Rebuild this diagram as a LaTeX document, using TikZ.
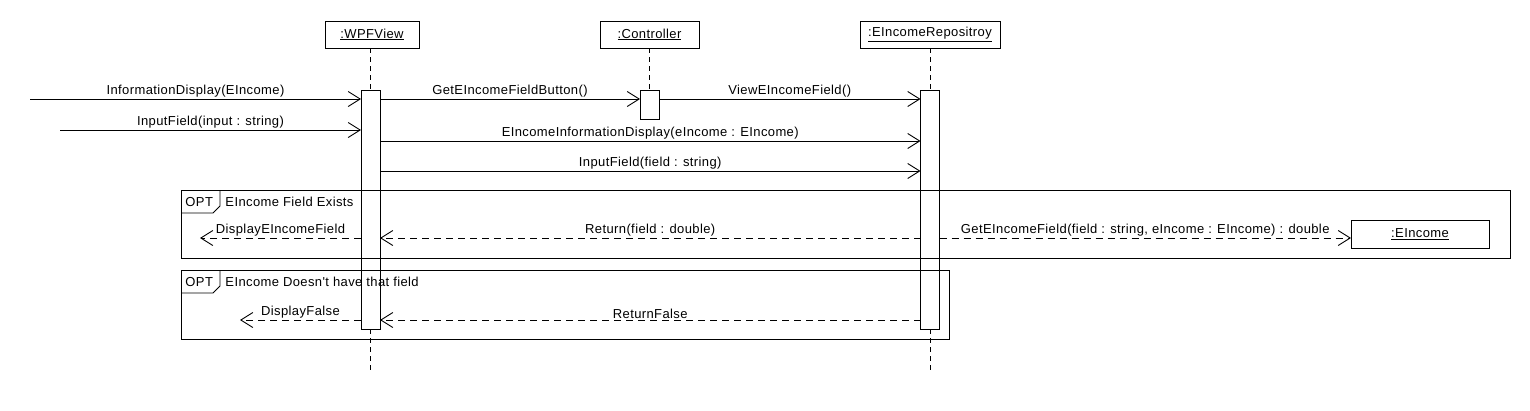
\documentclass[tikz,border=0pt]{standalone}
\usepackage{fontspec}
\setmainfont{Liberation Sans}[LetterSpace=3,Ligatures=TeXOff]
\usetikzlibrary{arrows.meta}
\begin{document}
\begin{tikzpicture}[x=1pt,y=-1pt,line width=0.9pt,
  every node/.style={font=\fontsize{13pt}{15pt}\selectfont},
  head/.style={draw,minimum height=27pt,inner sep=0pt,outer sep=0pt},
  bar/.style={draw,minimum width=19pt,inner sep=0pt,outer sep=0pt},
  life/.style={dash pattern=on 5pt off 4pt},
  msg/.style={-{Straight Barb[length=12pt,width=15pt]}},
  ret/.style={msg,dash pattern=on 7pt off 5pt},
  lbl/.style={midway,above=0pt,inner sep=1pt},
  frame/.style={draw}]
\useasboundingbox (0,0) rectangle (1530,410);

% lifeline heads
\node[head,minimum width=94pt] (wpf) at (372,34.5) {\underline{:WPFView}};
\node[head,minimum width=99pt] (ctrl) at (649.5,34.5) {\underline{:Controller}};
\node[head,minimum width=140pt] (repo) at (930,34.5) {\underline{:EIncomeRepositroy}};

% activation bars
\node[bar,minimum height=239pt] (wpfact) at (370.5,209.5) {};
\node[bar,minimum height=29pt] (ctrlact) at (649.5,104.5) {};
\node[bar,minimum height=239pt] (repoact) at (930,209.5) {};

% lifeline ends
\coordinate (wpfend) at (370.5,370);
\coordinate (repoend) at (930,370);

% lifelines
\draw[life] (wpfact.north |- wpf.south) -- (wpfact.north);
\draw[life] (wpfact.south) -- (wpfend);
\draw[life] (ctrlact.north |- ctrl.south) -- (ctrlact.north);
\draw[life] (repoact.north |- repo.south) -- (repoact.north);
\draw[life] (repoact.south) -- (repoend);

% frames
\draw[frame] (181,190) rectangle (1510,258);
\draw (181,213) -- (213,213) -- (220,206) -- (220,190);
\node[anchor=west,inner sep=0pt] (opt1) at (185,202) {OPT};
\node[anchor=west,inner sep=0pt] (cond1) at (225,202) {EIncome Field Exists};

\draw[frame] (181,270) rectangle (949,339);
\draw (181,293) -- (213,293) -- (220,286) -- (220,270);
\node[anchor=west,inner sep=0pt] (opt2) at (185,282) {OPT};
\node[anchor=west,inner sep=0pt] (cond2) at (225,282) {EIncome Doesn't have that field};

% object EIncome
\node[head,minimum width=138pt,minimum height=28pt] (einc) at (1420,234) {\underline{:EIncome}};

% row coordinates
\coordinate (r1) at (0,99);
\coordinate (r2) at (0,130);
\coordinate (r3) at (0,141);
\coordinate (r4) at (0,171);
\coordinate (r5) at (0,238);
\coordinate (r6) at (0,320);
\coordinate (src1) at (30,99);
\coordinate (src2) at (60,130);
\coordinate (dst1) at (200,238);
\coordinate (dst2) at (240,320);

% messages
\draw[msg] (src1) -- (wpfact.west |- r1) node[lbl] {InformationDisplay(EIncome)};
\draw[msg] (src2) -- (wpfact.west |- r2) node[lbl] {InputField(input : string)};
\draw[msg] (wpfact.east |- r1) -- (ctrlact.west |- r1) node[lbl] {GetEIncomeFieldButton()};
\draw[msg] (ctrlact.east |- r1) -- (repoact.west |- r1) node[lbl] {ViewEIncomeField()};
\draw[msg] (wpfact.east |- r3) -- (repoact.west |- r3) node[lbl] {EIncomeInformationDisplay(eIncome : EIncome)};
\draw[msg] (wpfact.east |- r4) -- (repoact.west |- r4) node[lbl] {InputField(field : string)};

\draw[ret] (repoact.west |- r5) -- (wpfact.east |- r5) node[lbl] {Return(field : double)};
\draw[ret] (wpfact.west |- r5) -- (dst1) node[lbl] {DisplayEIncomeField};
\draw[ret] (repoact.east |- r5) -- (einc.west |- r5) node[lbl] {GetEIncomeField(field : string, eIncome : EIncome) : double};
\draw[ret] (repoact.west |- r6) -- (wpfact.east |- r6) node[lbl] {ReturnFalse};
\draw[ret] (wpfact.west |- r6) -- (dst2) node[lbl] {DisplayFalse};
\end{tikzpicture}
\end{document}
